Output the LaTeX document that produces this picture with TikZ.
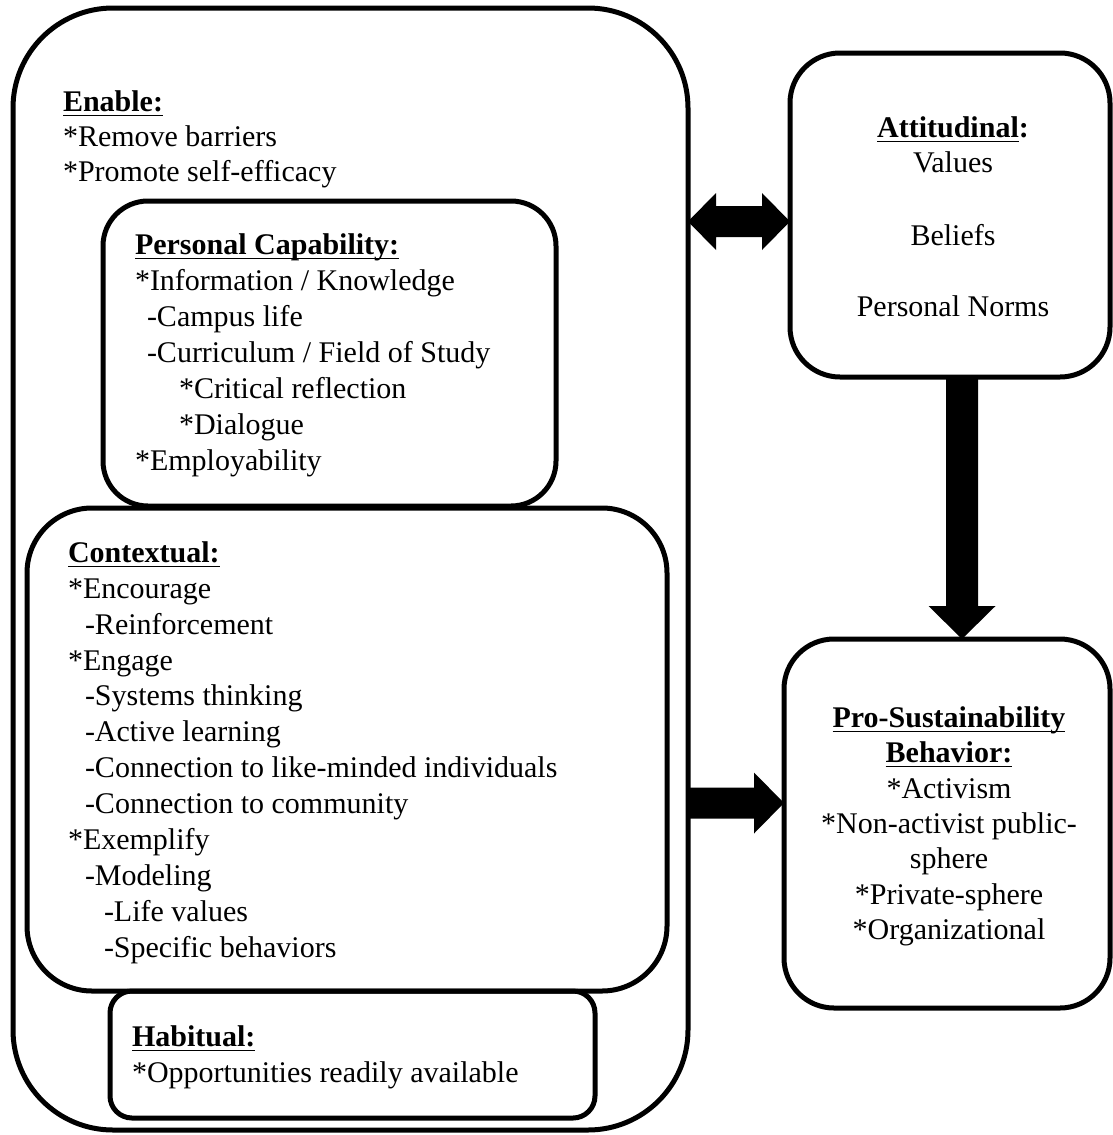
\documentclass[tikz,border=0pt]{standalone}
\usepackage{fontspec}
\setmainfont{Liberation Serif}
\usetikzlibrary{calc}
\newcommand{\hd}[1]{\textbf{\setbox0\hbox{#1}\rlap{\rule[-5.3pt]{\wd0}{1.8pt}}\box0}}
\begin{document}
\begin{tikzpicture}[x=1pt,y=-1pt,
  box/.style={draw, line width=5pt, rectangle, inner sep=0pt, outer sep=0pt},
  txt/.style={anchor=base west, inner sep=0pt, outer sep=0pt, font=\fontsize{30}{35}\selectfont},
  ctxt/.style={txt, anchor=base}]
\useasboundingbox (0,0) rectangle (1113,1135);

% boxes
\node[box, rounded corners=100pt, minimum width=675pt, minimum height=1122pt] (outer) at (350.5,569) {};
\node[box, rounded corners=45pt, minimum width=453pt, minimum height=305pt] (pc) at (329.5,353.5) {};
\node[box, rounded corners=65pt, minimum width=640pt, minimum height=483pt] (ctx) at (347,749.5) {};
\node[box, rounded corners=22pt, minimum width=485pt, minimum height=127pt] (hab) at (352.5,1054.5) {};
\node[box, rounded corners=50pt, minimum width=320pt, minimum height=324pt] (att) at (950,215) {};
\node[box, rounded corners=50pt, minimum width=326pt, minimum height=369pt] (pro) at (947,823.5) {};

% double arrow outer <-> att
\coordinate (d1) at (outer.east |- 0,221.5);
\coordinate (d2) at (att.west |- 0,221.5);
\fill (d1) -- ($(d1)+(28,-28.5)$) -- ($(d1)+(28,-15.5)$) -- ($(d2)+(-28,-15.5)$)
  -- ($(d2)+(-28,-28.5)$) -- (d2) -- ($(d2)+(-28,28.5)$) -- ($(d2)+(-28,15.5)$)
  -- ($(d1)+(28,15.5)$) -- ($(d1)+(28,28.5)$) -- cycle;

% down arrow att -> pro
\coordinate (v1) at (att.south -| 962,0);
\coordinate (v2) at (pro.north -| 962,0);
\fill ($(v1)+(-16,0)$) -- ($(v1)+(16,0)$) -- ($(v2)+(16,-33)$) -- ($(v2)+(33.5,-33)$)
  -- (v2) -- ($(v2)+(-33.5,-33)$) -- ($(v2)+(-16,-33)$) -- cycle;

% right arrow outer -> pro
\coordinate (r1) at (outer.east |- 0,803);
\coordinate (r2) at (pro.west |- 0,803);
\fill ($(r1)+(0,-15.5)$) -- ($(r2)+(-30,-15.5)$) -- ($(r2)+(-30,-30.5)$) -- (r2)
  -- ($(r2)+(-30,30.5)$) -- ($(r2)+(-30,15.5)$) -- ($(r1)+(0,15.5)$) -- cycle;

% Enable
\node[txt] (en0) at (63,111) {\hd{Enable:}};
\node[txt] (en1) at (63,146) {*Remove barriers};
\node[txt] (en2) at (63,181) {*Promote self-efficacy};

% Personal capability
\node[txt] (pc0) at (135,254) {\hd{Personal Capability:}};
\node[txt] (pc1) at (135,290) {*Information / Knowledge};
\node[txt] (pc2) at (147,326) {-Campus life};
\node[txt] (pc3) at (147,362) {-Curriculum / Field of Study};
\node[txt] (pc4) at (179,398) {*Critical reflection};
\node[txt] (pc5) at (179,434) {*Dialogue};
\node[txt] (pc6) at (135,470) {*Employability};

% Contextual
\node[txt] (cx0) at (68,562) {\hd{Contextual:}};
\node[txt] (cx1) at (68,598) {*Encourage};
\node[txt] (cx2) at (85,634) {-Reinforcement};
\node[txt] (cx3) at (68,670) {*Engage};
\node[txt] (cx4) at (85,705.5) {-Systems thinking};
\node[txt] (cx5) at (85,741.5) {-Active learning};
\node[txt] (cx6) at (85,777.5) {-Connection to like-minded individuals};
\node[txt] (cx7) at (85,813.5) {-Connection to community};
\node[txt] (cx8) at (68,849.5) {*Exemplify};
\node[txt] (cx9) at (85,885.5) {-Modeling};
\node[txt] (cx10) at (104,921.5) {-Life values};
\node[txt] (cx11) at (104,957) {-Specific behaviors};

% Habitual
\node[txt] (hb0) at (132,1046) {\hd{Habitual:}};
\node[txt] (hb1) at (132,1082) {*Opportunities readily available};

% Attitudinal
\node[ctxt] (at0) at (953,137) {\hd{Attitudinal}\textbf{:}};
\node[ctxt] (at1) at (953,172) {Values};
\node[ctxt] (at2) at (953,245) {Beliefs};
\node[ctxt] (at3) at (953,316) {Personal Norms};

% Pro-sustainability
\node[ctxt] (ps0) at (949,727) {\hd{Pro-Sustainability}};
\node[ctxt] (ps1) at (949,762) {\hd{Behavior:}};
\node[ctxt] (ps2) at (949,798) {*Activism};
\node[ctxt] (ps3) at (949,833) {*Non-activist public-};
\node[ctxt] (ps4) at (949,868) {sphere};
\node[ctxt] (ps5) at (949,904) {*Private-sphere};
\node[ctxt] (ps6) at (949,939) {*Organizational};
\end{tikzpicture}
\end{document}
